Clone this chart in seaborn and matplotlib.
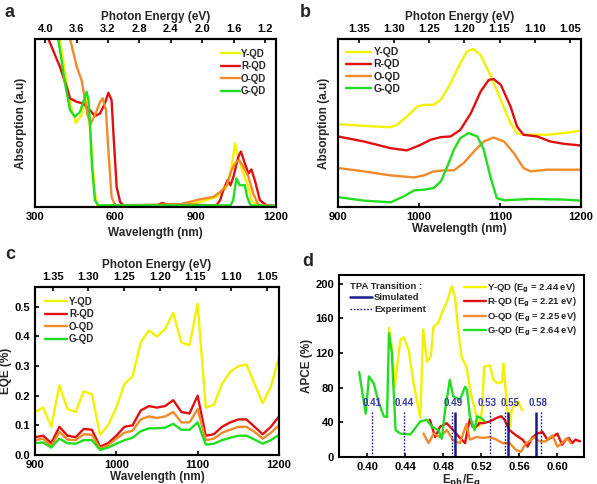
import numpy as np
import matplotlib
matplotlib.use("Agg")
import matplotlib.pyplot as plt
import seaborn as sns

# colours of the four dots
Y_COL = '#f2f200'
R_COL = '#e01010'
O_COL = '#f08a2a'
G_COL = '#22dd22'
TPA_COL = '#1a1a8c'

# ---- panel a: absorption, 300-1200 nm ----
a_y_wl = [393, 418, 437, 453, 474, 490, 499, 511, 524, 533, 850, 916, 978, 1016, 1034, 1047, 1059, 1078, 1097, 1109, 1128, 1200]
a_y_ab = [1.0, 0.74, 0.577, 0.501, 0.547, 0.646, 0.596, 0.338, 0.080, 0.010, 0.006, 0.03, 0.06, 0.119, 0.239, 0.378, 0.298, 0.199, 0.119, 0.04, 0.01, 0.005]
a_r_wl = [300, 350, 393, 418, 431, 456, 480, 505, 524, 543, 561, 574, 586, 593, 605, 618, 630, 757, 773, 792, 978, 991, 1003, 1019, 1030, 1041, 1059, 1069, 1084, 1097, 1108, 1121, 1140, 1165, 1200]
a_r_ab = [1.4, 1.0, 0.835, 0.716, 0.646, 0.626, 0.616, 0.577, 0.541, 0.557, 0.616, 0.680, 0.636, 0.437, 0.119, 0.030, 0.010, 0.010, 0.024, 0.016, 0.01, 0.04, 0.099, 0.16, 0.129, 0.179, 0.298, 0.33, 0.258, 0.199, 0.224, 0.159, 0.04, 0.01, 0.006]
a_o_wl = [300, 431, 456, 474, 487, 496, 508, 524, 543, 553, 565, 574, 586, 599, 842, 916, 966, 991, 1016, 1034, 1047, 1062, 1078, 1097, 1115, 1135, 1200]
a_o_ab = [1.6, 1.0, 0.835, 0.755, 0.636, 0.547, 0.497, 0.547, 0.626, 0.647, 0.577, 0.338, 0.060, 0.01, 0.016, 0.046, 0.060, 0.089, 0.129, 0.219, 0.26, 0.28, 0.24, 0.18, 0.08, 0.01, 0.005]
a_g_wl = [387, 412, 431, 449, 468, 493, 500, 506, 513, 524, 536, 1030, 1040, 1052, 1065, 1084, 1092, 1105, 1200]
a_g_ab = [1.0, 0.736, 0.577, 0.537, 0.567, 0.686, 0.636, 0.477, 0.239, 0.04, 0.01, 0.01, 0.04, 0.17, 0.129, 0.13, 0.06, 0.01, 0.005]

# ---- panel b: absorption, 900-1200 nm ----
b_y_wl = [900, 932, 965, 973, 985, 998, 1006, 1018, 1027, 1039, 1051, 1059, 1067, 1076, 1088, 1101, 1113, 1121, 1129, 1158, 1179, 1200]
b_y_ab = [0.493, 0.483, 0.475, 0.489, 0.539, 0.598, 0.608, 0.608, 0.638, 0.737, 0.855, 0.925, 0.941, 0.905, 0.786, 0.638, 0.499, 0.440, 0.430, 0.430, 0.440, 0.455]
b_r_wl = [900, 932, 965, 985, 1002, 1014, 1027, 1039, 1051, 1064, 1076, 1086, 1092, 1101, 1113, 1121, 1129, 1146, 1162, 1179, 1200]
b_r_ab = [0.420, 0.390, 0.350, 0.337, 0.370, 0.400, 0.416, 0.420, 0.459, 0.558, 0.687, 0.756, 0.762, 0.727, 0.598, 0.479, 0.430, 0.420, 0.390, 0.376, 0.366]
b_o_wl = [900, 932, 965, 994, 1006, 1018, 1031, 1043, 1055, 1068, 1080, 1092, 1105, 1117, 1129, 1138, 1158, 1200]
b_o_ab = [0.232, 0.212, 0.188, 0.176, 0.188, 0.212, 0.218, 0.218, 0.261, 0.331, 0.390, 0.414, 0.390, 0.321, 0.232, 0.212, 0.222, 0.222]
b_g_wl = [900, 932, 965, 981, 994, 1006, 1018, 1027, 1035, 1043, 1051, 1061, 1072, 1080, 1088, 1096, 1105, 1138, 1179, 1200]
b_g_ab = [0.059, 0.038, 0.028, 0.063, 0.099, 0.103, 0.113, 0.152, 0.242, 0.341, 0.410, 0.440, 0.420, 0.341, 0.182, 0.053, 0.040, 0.048, 0.044, 0.038]

# ---- panel c: EQE ----
c_wl = list(range(900, 1201, 10))
c_y = [0.145, 0.16, 0.095, 0.235, 0.155, 0.145, 0.215, 0.205, 0.068, 0.10, 0.16, 0.24, 0.265, 0.38, 0.42, 0.40,
       0.425, 0.48, 0.38, 0.37, 0.51, 0.16, 0.17, 0.24, 0.28, 0.30, 0.305, 0.24, 0.175, 0.23, 0.33]
c_r = [0.06, 0.065, 0.04, 0.095, 0.065, 0.06, 0.088, 0.085, 0.028, 0.04, 0.065, 0.095, 0.10, 0.15, 0.165, 0.16,
       0.165, 0.185, 0.145, 0.14, 0.20, 0.065, 0.07, 0.095, 0.11, 0.12, 0.12, 0.095, 0.07, 0.095, 0.13]
c_o = [0.05, 0.055, 0.03, 0.078, 0.052, 0.05, 0.07, 0.068, 0.022, 0.033, 0.055, 0.075, 0.082, 0.12, 0.13, 0.125,
       0.13, 0.145, 0.11, 0.11, 0.155, 0.05, 0.055, 0.075, 0.085, 0.095, 0.095, 0.078, 0.055, 0.075, 0.10]
c_g = [0.04, 0.042, 0.025, 0.055, 0.04, 0.038, 0.05, 0.05, 0.017, 0.025, 0.038, 0.05, 0.058, 0.08, 0.09, 0.09,
       0.092, 0.105, 0.085, 0.085, 0.11, 0.035, 0.038, 0.05, 0.058, 0.065, 0.065, 0.052, 0.038, 0.05, 0.068]

# ---- panel d: APCE vs Eph/Eg ----
d_y_x = [0.423, 0.4264, 0.429, 0.435, 0.4385, 0.4437, 0.449, 0.456, 0.459, 0.463, 0.467, 0.4698, 0.475, 0.4785, 0.4837,
         0.489, 0.4924, 0.4958, 0.4993, 0.5045, 0.5097, 0.515, 0.518, 0.521, 0.523, 0.529, 0.533, 0.537, 0.542, 0.5435,
         0.547, 0.5505, 0.552, 0.556, 0.559, 0.563]
d_y_v = [149, 124, 80, 135, 138, 124, 85, 45, 147, 110, 116, 150, 155, 166, 178,
         197, 185, 147, 116, 104, 70, 47, 35, 55, 104, 106, 89, 85, 87, 108,
         58, 35, 54, 62, 64, 54]
d_r_x = [0.466, 0.4716, 0.4768, 0.4837, 0.4906, 0.4976, 0.503, 0.508, 0.511, 0.515, 0.518, 0.522, 0.529, 0.536, 0.541,
         0.5445, 0.5497, 0.5566, 0.5635, 0.5688, 0.574, 0.579, 0.5844, 0.5896, 0.595, 0.6, 0.605, 0.6087, 0.612, 0.6156,
         0.619, 0.624]
d_r_v = [43, 23, 35, 39, 31, 22, 16, 44, 35, 35, 39, 39, 41, 45, 47,
         43, 31, 25, 20, 12, 23, 27, 29, 20, 23, 27, 14, 20, 22, 16,
         20, 18]
d_o_x = [0.4594, 0.4646, 0.47, 0.4768, 0.484, 0.4906, 0.4976, 0.5045, 0.508, 0.515, 0.522, 0.529, 0.536, 0.5427, 0.55,
         0.5566, 0.5618, 0.567, 0.5705, 0.5757, 0.581, 0.5878, 0.5948, 0.6, 0.605, 0.6104, 0.614]
d_o_v = [27, 16, 27, 23, 31, 19, 16, 38, 20, 23, 22, 23, 20, 16, 16,
         8, 6, 16, 18, 23, 18, 18, 25, 12, 16, 22, 16]
d_g_x = [0.3917, 0.3986, 0.402, 0.407, 0.4125, 0.4177, 0.421, 0.423, 0.426, 0.43, 0.435, 0.4455, 0.456, 0.4628, 0.468,
         0.475, 0.4785, 0.482, 0.487, 0.4906, 0.4976, 0.503, 0.505, 0.508, 0.513, 0.5157, 0.52, 0.5236]
d_g_v = [98, 50, 93, 85, 62, 47, 46, 143, 120, 31, 27, 26, 41, 43, 35,
         31, 21, 54, 89, 70, 66, 81, 78, 47, 31, 47, 45, 41]

tpa_exp = [0.405, 0.439, 0.489, 0.529, 0.5455, 0.583]
tpa_sim = [0.4927, 0.548, 0.578]
tpa_lab = ['0.41', '0.44', '0.49', '0.53', '0.55', '0.58']
tpa_lab_x = [0.405, 0.439, 0.491, 0.5265, 0.5505, 0.58]

names = ['Y-QD', 'R-QD', 'O-QD', 'G-QD']
cols = [Y_COL, R_COL, O_COL, G_COL]

sns.set_theme(style='ticks')
plt.rcParams['font.family'] = ['Liberation Sans', 'DejaVu Sans']
plt.rcParams['font.weight'] = 'bold'
plt.rcParams['axes.labelweight'] = 'bold'
plt.rcParams['mathtext.default'] = 'bf'

fig = plt.figure(figsize=(5.97, 4.84), dpi=100)
ax_a = fig.add_axes([0.0586, 0.5723, 0.4037, 0.3471])
ax_b = fig.add_axes([0.5662, 0.5723, 0.4070, 0.3471])
ax_c = fig.add_axes([0.0586, 0.0600, 0.4087, 0.3470])
ax_d = fig.add_axes([0.5678, 0.0558, 0.4104, 0.3760])

LW = 1.7
TFS = 8


def style(ax):
    for s in ax.spines.values():
        s.set_linewidth(1.5)
        s.set_color('black')
    ax.tick_params(direction='in', length=3, width=1.2, labelsize=TFS, colors='black')
    for t in ax.get_xticklabels() + ax.get_yticklabels():
        t.set_fontweight('bold')


def top_axis(ax, lim, ticks, fmt):
    tw = ax.twiny()
    tw.set_xlim(*lim)
    tw.set_xticks(ticks)
    tw.set_xticklabels([fmt % t for t in ticks])
    tw.set_xlabel('Photon Energy (eV)', fontsize=8.5, fontweight='bold', labelpad=3)
    style(tw)
    return tw


def draw(ax, xs, ys):
    for x, y, c, n in zip(xs, ys, cols, names):
        sns.lineplot(x=x, y=y, ax=ax, color=c, lw=LW, label=n, estimator=None, sort=False)


# a
draw(ax_a, [a_y_wl, a_r_wl, a_o_wl, a_g_wl], [a_y_ab, a_r_ab, a_o_ab, a_g_ab])
ax_a.set_xlim(300, 1200)
ax_a.set_ylim(0, 1.0)
ax_a.set_xticks([300, 600, 900, 1200])
ax_a.set_yticks([])
ax_a.set_xlabel('Wavelength (nm)', fontsize=8.5, labelpad=4)
ax_a.set_ylabel('Absorption (a.u)', fontsize=8.5, labelpad=6)
style(ax_a)
ax_a.legend(loc='upper right', frameon=False, handlelength=2.0, handletextpad=0.1,
            labelspacing=0.25, borderaxespad=0.6, prop={'weight': 'bold', 'size': 7})
top_axis(ax_a, (4.13, 1.06), [4.0, 3.6, 3.2, 2.8, 2.4, 2.0, 1.6, 1.2], '%.1f')

# b
draw(ax_b, [b_y_wl, b_r_wl, b_o_wl, b_g_wl], [b_y_ab, b_r_ab, b_o_ab, b_g_ab])
ax_b.set_xlim(900, 1200)
ax_b.set_ylim(0, 1.0)
ax_b.set_xticks([900, 1000, 1100, 1200])
ax_b.set_yticks([])
ax_b.set_xlabel('Wavelength (nm)', fontsize=8.5, labelpad=1)
ax_b.set_ylabel('Absorption (a.u)', fontsize=8.5, labelpad=6)
style(ax_b)
ax_b.legend(loc='upper left', frameon=False, handlelength=2.4, handletextpad=0.2,
            labelspacing=0.2, borderaxespad=0.4, prop={'weight': 'bold', 'size': 7.5})
top_axis(ax_b, (1.38, 1.034), [1.35, 1.30, 1.25, 1.20, 1.15, 1.10, 1.05], '%.2f')

# c
draw(ax_c, [c_wl] * 4, [c_y, c_r, c_o, c_g])
ax_c.set_xlim(900, 1200)
ax_c.set_ylim(0, 0.567)
ax_c.set_xticks([900, 1000, 1100, 1200])
ax_c.set_yticks([0.0, 0.1, 0.2, 0.3, 0.4, 0.5])
ax_c.set_yticklabels(['%.1f' % v for v in [0.0, 0.1, 0.2, 0.3, 0.4, 0.5]])
ax_c.set_xlabel('Wavelength (nm)', fontsize=8.5, labelpad=1)
ax_c.set_ylabel('EQE (%)', fontsize=8.5, labelpad=2)
style(ax_c)
ax_c.legend(loc='upper left', frameon=False, handlelength=2.3, handletextpad=0.2,
            labelspacing=0.25, borderaxespad=0.6, prop={'weight': 'bold', 'size': 7})
top_axis(ax_c, (1.375, 1.033), [1.35, 1.30, 1.25, 1.20, 1.15, 1.10, 1.05], '%.2f')

# d
dlabels = ['Y-QD (E$_g$ = 2.44 eV)', 'R-QD (E$_g$ = 2.21 eV)', 'O-QD (E$_g$ = 2.25 eV)', 'G-QD (E$_g$ = 2.64 eV)']
for x, y, c, n in zip([d_y_x, d_r_x, d_o_x, d_g_x], [d_y_v, d_r_v, d_o_v, d_g_v], cols, dlabels):
    sns.lineplot(x=x, y=y, ax=ax_d, color=c, lw=LW, label=n, estimator=None, sort=False)
ax_d.vlines(tpa_exp, 0, 52, colors=TPA_COL, linestyles=(0, (1.2, 1.2)), lw=1.0)
ax_d.vlines(tpa_sim, 0, 52, colors=TPA_COL, linestyles='solid', lw=1.8)
for xv, lab in zip(tpa_lab_x, tpa_lab):
    ax_d.text(xv, 62, lab, color='#3a3aa0', fontsize=7, fontweight='bold', ha='center', va='center')
ax_d.set_xlim(0.3705, 0.628)
ax_d.set_ylim(0, 210)
ax_d.set_xticks([0.40, 0.44, 0.48, 0.52, 0.56, 0.60])
ax_d.set_xticklabels(['%.2f' % v for v in [0.40, 0.44, 0.48, 0.52, 0.56, 0.60]])
ax_d.set_yticks([0, 40, 80, 120, 160, 200])
ax_d.set_xlabel('E$_{ph}$/E$_g$', fontsize=8.5, labelpad=0)
ax_d.set_ylabel('APCE (%)', fontsize=8.5, labelpad=2)
style(ax_d)
leg1 = ax_d.legend(loc='upper right', frameon=False, handlelength=2.3, handletextpad=0.1,
                   labelspacing=0.15, borderaxespad=0.3, prop={'weight': 'bold', 'size': 6.8})
ax_d.add_artist(leg1)
h_sim, = ax_d.plot([], [], color=TPA_COL, lw=1.8)
h_exp, = ax_d.plot([], [], color=TPA_COL, lw=1.0, ls=(0, (1.2, 1.2)))
leg2 = ax_d.legend([h_sim, h_exp], ['Simulated', 'Experiment'], loc='upper left',
                   bbox_to_anchor=(0.02, 1.0), frameon=False,
                   handlelength=2.3, handletextpad=0.2, labelspacing=0.3, borderaxespad=0.3,
                   title='TPA Transition :', prop={'weight': 'bold', 'size': 6.8},
                   title_fontproperties={'weight': 'bold', 'size': 6.8})
leg2._legend_box.align = 'left'

# panel letters
fig.text(0.008, 0.975, 'a', fontsize=13, fontweight='bold', va='center')
fig.text(0.503, 0.975, 'b', fontsize=13, fontweight='bold', va='center')
fig.text(0.008, 0.475, 'c', fontsize=13, fontweight='bold', va='center')
fig.text(0.507, 0.46, 'd', fontsize=13, fontweight='bold', va='center')

fig.savefig('out.png', dpi=100)
